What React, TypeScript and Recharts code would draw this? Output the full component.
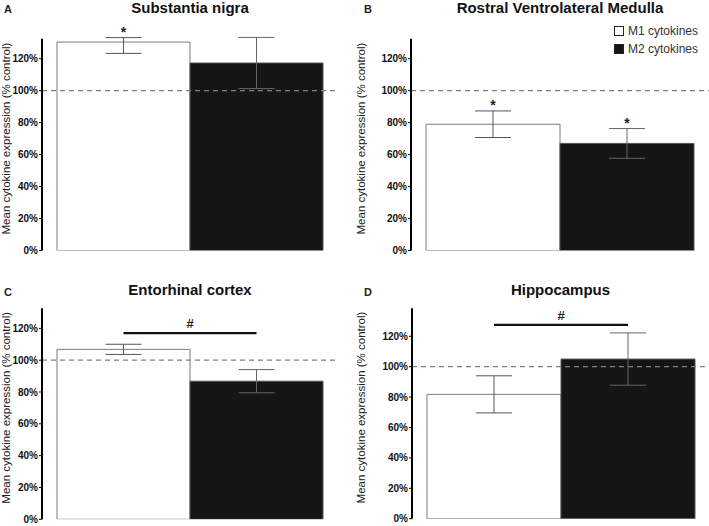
import React from 'react';
import { BarChart, Bar, XAxis, YAxis, ErrorBar, ReferenceLine } from 'recharts';

// values (% of control)
const regions = ['Substantia nigra', 'Rostral Ventrolateral Medulla', 'Entorhinal cortex', 'Hippocampus'];
const panelLetters = ['A', 'B', 'C', 'D'];
const m1Mean = [130.4, 79, 106.8, 81.8];
const m1Err: (number | number[])[] = [[7.1, 2.8], 8.3, 3.2, 12.2];
const m2Mean = [117.3, 67, 86.8, 105];
const m2Err: (number | number[])[] = [16, 9.3, 7.3, 17.2];
const m1Star = [true, true, false, false];
const m2Star = [false, true, false, false];
const sigLevel = [null, null, 117, 127.5];
const yMax = [132.5, 132.5, 132.6, 138.4];
const yTicks = [0, 20, 40, 60, 80, 100, 120];
const seriesNames = ['M1 cytokines', 'M2 cytokines'];

const FONT = '"Liberation Sans", Arial, sans-serif';
const M1_FILL = '#ffffff';
const M2_FILL = '#151515';

// panel layout in page pixels
const layout = [
  { left: 0, top: 0, width: 354, height: 260, plotLeft: 42, plotTop: 38.7, plotBottom: 250.5, plotRight: 338 },
  { left: 355, top: 0, width: 354, height: 260, plotLeft: 411, plotTop: 38.7, plotBottom: 250.5, plotRight: 709 },
  { left: 0, top: 260, width: 354, height: 266, plotLeft: 42, plotTop: 308.3, plotBottom: 519.3, plotRight: 338 },
  { left: 355, top: 260, width: 354, height: 266, plotLeft: 412, plotTop: 308.3, plotBottom: 518.7, plotRight: 709 },
];

const upper = (e: number | number[]) => (Array.isArray(e) ? e[1] : e);

const Panel: React.FC<{ i: number }> = ({ i }) => {
  const L = layout[i];
  const data = [{ name: regions[i], m1: m1Mean[i], m1Err: m1Err[i], m2: m2Mean[i], m2Err: m2Err[i] }];
  const margin = {
    top: L.plotTop - L.top,
    bottom: L.top + L.height - L.plotBottom,
    left: 0,
    right: L.left + L.width - L.plotRight,
  };

  const starLabel = (show: boolean, err: number | number[]) => (p: any) => {
    if (!show) return null;
    const perUnit = p.height / p.value;
    const errTop = p.y - upper(err) * perUnit;
    return (
      <text x={p.x + p.width / 2} y={errTop - 1} textAnchor="middle" fontSize={14} fontWeight="bold" fill="#222" fontFamily={FONT}>
        *
      </text>
    );
  };

  // significance bar between the two bar centres
  const m1Label = (p: any) => {
    const sig = sigLevel[i];
    if (sig == null) return starLabel(m1Star[i], m1Err[i])(p);
    const perUnit = p.height / p.value;
    const ly = p.y + (p.value - sig) * perUnit;
    const x1 = p.x + p.width / 2;
    const x2 = p.x + p.width * 1.5;
    return (
      <g>
        <line x1={x1} x2={x2} y1={ly} y2={ly} stroke="#111" strokeWidth={2.2} />
        <text x={(x1 + x2) / 2} y={ly - 5} textAnchor="middle" fontSize={13} fontWeight="bold" fill="#222" fontFamily={FONT}>
          #
        </text>
      </g>
    );
  };

  return (
    <div style={{ position: 'absolute', left: L.left, top: L.top, width: L.width, height: L.height }}>
      <div style={{ position: 'absolute', left: i % 2 ? 9 : 4, top: i < 2 ? 3 : 26, fontSize: 11, fontWeight: 'bold', color: '#222' }}>
        {panelLetters[i]}
      </div>
      <div
        style={{
          position: 'absolute',
          left: L.plotLeft - L.left,
          width: L.plotRight - L.plotLeft,
          top: i < 2 ? -1 : 21,
          textAlign: 'center',
          fontSize: 15,
          fontWeight: 'bold',
          color: '#111',
          lineHeight: '17px',
        }}
      >
        {regions[i]}
      </div>
      <BarChart width={L.width} height={L.height} data={data} margin={margin} barCategoryGap={15} barGap={0}>
        <XAxis dataKey="name" tick={false} tickLine={false} height={0} axisLine={{ stroke: '#000', strokeWidth: 2 }} />
        <YAxis
          width={L.plotLeft - L.left}
          domain={[0, yMax[i]]}
          ticks={yTicks}
          allowDataOverflow
          tickFormatter={(v) => `${v}%`}
          tickSize={3}
          tickMargin={1}
          tickLine={{ stroke: '#000' }}
          axisLine={{ stroke: '#000', strokeWidth: 2 }}
          tick={{ fontSize: 10, fontWeight: 'bold', fill: '#111', fontFamily: FONT }}
          label={{
            value: 'Mean cytokine expression (% control)',
            angle: -90,
            position: 'insideLeft',
            offset: 6,
            dy: -6,
            style: { textAnchor: 'middle', fontSize: 11.5, fill: '#222', fontFamily: FONT },
          }}
        />
        <Bar dataKey="m1" name={seriesNames[0]} fill={M1_FILL} stroke="#7a7a7a" strokeWidth={1} isAnimationActive={false} label={m1Label}>
          <ErrorBar dataKey="m1Err" width={18} stroke="#555" strokeWidth={1} />
        </Bar>
        <Bar dataKey="m2" name={seriesNames[1]} fill={M2_FILL} stroke="#555" strokeWidth={1} isAnimationActive={false} label={starLabel(m2Star[i], m2Err[i])}>
          <ErrorBar dataKey="m2Err" width={18} stroke="#666" strokeWidth={1} />
        </Bar>
        <ReferenceLine y={100} stroke="#808080" strokeWidth={1.2} strokeDasharray="5 4" />
      </BarChart>
      {i === 1 && (
        <div style={{ position: 'absolute', left: 259, top: 22, fontSize: 12, color: '#333', lineHeight: '18px' }}>
          {seriesNames.map((n, k) => (
            <div key={n} style={{ display: 'flex', alignItems: 'center' }}>
              <span
                style={{
                  display: 'inline-block',
                  width: 10,
                  height: 10,
                  marginRight: 4,
                  boxSizing: 'border-box',
                  border: '1px solid #222',
                  background: k === 0 ? M1_FILL : M2_FILL,
                }}
              />
              {n}
            </div>
          ))}
        </div>
      )}
    </div>
  );
};

export default function App() {
  return (
    <div style={{ position: 'absolute', left: 0, top: 0, width: 709, height: 526, background: '#fff', fontFamily: FONT }}>
      {regions.map((_, i) => (
        <Panel key={i} i={i} />
      ))}
    </div>
  );
}
